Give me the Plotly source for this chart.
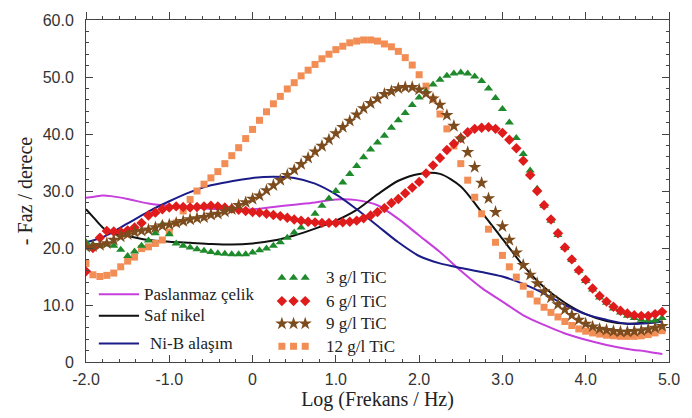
import plotly.graph_objects as go

# Log frequency grid of the measured points (log10 f / Hz)
log_f = [-2.000, -1.917, -1.833, -1.750, -1.667, -1.583, -1.500, -1.417, -1.333, -1.250,
         -1.167, -1.083, -1.000, -0.917, -0.833, -0.750, -0.667, -0.583, -0.500, -0.417,
         -0.333, -0.250, -0.167, -0.083, 0.000, 0.083, 0.167, 0.250, 0.333, 0.417,
         0.500, 0.583, 0.667, 0.750, 0.833, 0.917, 1.000, 1.083, 1.167, 1.250,
         1.333, 1.417, 1.500, 1.583, 1.667, 1.750, 1.833, 1.917, 2.000, 2.083,
         2.167, 2.250, 2.333, 2.417, 2.500, 2.583, 2.667, 2.750, 2.833, 2.917,
         3.000, 3.083, 3.167, 3.250, 3.333, 3.417, 3.500, 3.583, 3.667, 3.750,
         3.833, 3.917, 4.000, 4.083, 4.167, 4.250, 4.333, 4.417, 4.500, 4.583,
         4.667, 4.750, 4.833, 4.917]

# -phase (degrees) of the TiC composite coatings
tic_3 = [21.0, 20.6, 20.4, 20.6, 20.4, 19.7, 18.6, 19.4, 20.4, 21.3,
         22.6, 24.2, 22.4, 20.8, 20.4, 20.1, 19.8, 19.5, 19.3, 19.1,
         19.0, 18.9, 18.9, 18.9, 19.2, 19.6, 19.9, 20.4, 21.0, 21.8,
         22.7, 23.6, 24.6, 26.0, 27.4, 28.7, 30.0, 31.5, 33.0, 34.4,
         35.9, 37.3, 38.5, 39.7, 41.1, 42.4, 43.7, 45.1, 46.4, 47.5,
         48.7, 49.5, 50.2, 50.6, 50.8, 50.6, 50.1, 49.3, 48.0, 46.3,
         44.4, 42.0, 39.3, 36.5, 33.6, 30.4, 27.4, 24.8, 22.3, 20.0,
         17.9, 16.0, 14.2, 12.7, 11.3, 10.4, 9.4, 8.7, 8.1, 7.7,
         7.4, 7.3, 7.3, 7.7]

tic_6 = [15.9, 20.0, 21.8, 23.0, 22.9, 22.8, 23.1, 23.6, 24.4, 25.7,
         26.2, 26.8, 27.1, 27.3, 27.2, 27.1, 27.2, 27.3, 27.4, 27.3,
         27.1, 26.9, 26.7, 26.5, 26.3, 26.2, 26.0, 25.8, 25.6, 25.3,
         25.0, 24.8, 24.6, 24.5, 24.4, 24.4, 24.4, 24.5, 24.6, 24.8,
         25.2, 25.7, 26.3, 27.0, 27.9, 28.6, 29.6, 30.6, 31.6, 33.1,
         34.5, 35.8, 37.2, 38.3, 39.3, 40.3, 40.9, 41.1, 41.2, 40.9,
         40.2, 39.0, 37.5, 35.3, 32.8, 30.0, 27.5, 25.0, 22.6, 20.1,
         18.0, 16.1, 14.4, 12.9, 11.6, 10.6, 9.7, 9.0, 8.5, 8.2,
         8.1, 8.1, 8.4, 8.8]

tic_9 = [20.2, 20.3, 20.5, 20.8, 21.4, 22.0, 22.4, 22.8, 23.0, 23.2,
         23.6, 23.9, 24.1, 24.4, 24.7, 25.0, 25.2, 25.4, 25.8, 26.0,
         26.4, 26.8, 27.5, 28.0, 28.6, 29.2, 30.1, 31.0, 31.9, 32.8,
         33.7, 34.7, 35.8, 36.9, 37.9, 39.0, 40.1, 41.2, 42.3, 43.4,
         44.5, 45.4, 46.2, 47.0, 47.5, 48.0, 48.2, 48.2, 47.8, 47.1,
         46.2, 45.1, 43.3, 41.4, 39.2, 36.8, 34.2, 31.4, 28.7, 26.3,
         23.8, 21.4, 19.2, 17.0, 15.3, 13.8, 12.4, 11.3, 10.1, 9.2,
         8.2, 7.4, 6.7, 6.2, 5.8, 5.6, 5.4, 5.3, 5.3, 5.4,
         5.5, 5.7, 6.0, 6.3]

tic_12 = [17.3, 15.3, 15.0, 15.2, 15.6, 16.7, 17.7, 18.4, 19.9, 20.2,
          20.8, 21.4, 22.8, 24.4, 26.5, 28.5, 30.0, 31.2, 32.3, 33.4,
          34.8, 36.2, 37.6, 39.2, 40.8, 42.4, 43.9, 45.3, 46.6, 47.9,
          49.0, 50.2, 51.2, 52.2, 53.2, 54.0, 54.8, 55.4, 56.0, 56.3,
          56.5, 56.5, 56.3, 55.8, 55.3, 54.5, 53.4, 52.1, 50.4, 48.4,
          46.1, 43.5, 40.9, 37.9, 34.8, 31.9, 28.9, 26.0, 23.3, 21.0,
          18.7, 16.7, 14.9, 13.3, 11.9, 10.7, 9.6, 8.7, 7.9, 7.1,
          6.4, 5.8, 5.4, 5.1, 4.9, 4.7, 4.6, 4.5, 4.5, 4.5,
          4.6, 4.8, 5.1, 5.5]

# Reference substrates / coatings drawn as smooth lines
log_f_line = [-2.0, -1.9, -1.8, -1.7, -1.5, -1.25, -1.0, -0.75, -0.5, -0.25,
              0.0, 0.25, 0.5, 0.75, 1.0, 1.25, 1.5, 1.75, 2.0, 2.25,
              2.5, 2.75, 3.0, 3.25, 3.5, 3.75, 4.0, 4.25, 4.5, 4.75, 4.92]

paslanmaz = [28.8, 29.0, 29.2, 29.1, 28.6, 27.8, 27.4, 27.1, 26.9, 26.7,
             26.8, 27.2, 27.6, 28.0, 28.5, 28.4, 27.5, 25.1, 22.2, 19.3,
             16.0, 13.0, 10.6, 8.2, 6.5, 5.0, 3.9, 3.0, 2.3, 1.8, 1.4]

saf_nikel = [26.8, 25.2, 23.6, 22.6, 22.1, 21.4, 21.1, 20.9, 20.7, 20.6,
             20.8, 21.3, 22.2, 23.4, 24.8, 26.7, 29.4, 31.8, 33.0, 33.0,
             30.8, 26.3, 21.6, 16.9, 13.1, 10.4, 8.4, 7.2, 6.7, 7.0, 7.6]

ni_b = [21.0, 21.4, 21.9, 22.6, 24.3, 26.4, 28.2, 29.8, 31.0, 31.7,
        32.3, 32.5, 32.3, 31.3, 29.4, 26.8, 23.9, 21.0, 18.6, 17.3,
        16.5, 15.8, 15.0, 13.7, 12.0, 10.0, 8.4, 7.4, 6.7, 6.8, 7.1]

x_ticks = [-2, -1, 0, 1, 2, 3, 4, 5]
x_tick_text = ["-2.0", "-1.0", "0", "1.0", "2.0", "3.0", "4.0", "5.0"]
y_ticks = [0, 10, 20, 30, 40, 50, 60]
y_tick_text = ["0", "10.0", "20.0", "30.0", "40.0", "50.0", "60.0"]

line_series = [
    ("Paslanmaz çelik", paslanmaz, "#c63fdc"),
    ("Saf nikel", saf_nikel, "#111111"),
    ("Ni-B alaşım", ni_b, "#1c1c88"),
]
marker_series = [
    ("12 g/l TiC", tic_12, "#f28e55", "square", 7),
    ("3 g/l TiC", tic_3, "#1f8a2c", "triangle-up", 8),
    ("6 g/l TiC", tic_6, "#e01b1b", "diamond", 8),
    ("9 g/l TiC", tic_9, "#7c4c1e", "star", 10),
]

fig = go.Figure()

for name, vals, color in line_series:
    fig.add_trace(go.Scatter(x=log_f_line, y=vals, mode="lines", name=name,
                             line=dict(color=color, width=2, shape="spline", smoothing=0.8),
                             showlegend=False))

for name, vals, color, symbol, size in marker_series:
    fig.add_trace(go.Scatter(x=log_f, y=vals, mode="markers", name=name,
                             marker=dict(color=color, symbol=symbol, size=size, line=dict(width=0)),
                             showlegend=False))

# Hand-built legend: three sample markers per composite, short line per reference
serif = "Liberation Serif, Times New Roman, serif"
leg_marker_rows = [
    ("3 g/l TiC", "#1f8a2c", "triangle-up", 8, 0.246),
    ("6 g/l TiC", "#e01b1b", "diamond", 8, 0.178),
    ("9 g/l TiC", "#7c4c1e", "star", 10, 0.112),
    ("12 g/l TiC", "#f28e55", "square", 7, 0.046),
]
for label, color, symbol, size, yy in leg_marker_rows:
    fig.add_trace(go.Scatter(x=[0.336, 0.356, 0.376], y=[yy] * 3, mode="markers",
                             xaxis="x3", yaxis="y3", hoverinfo="skip", showlegend=False,
                             marker=dict(color=color, symbol=symbol, size=size, line=dict(width=0))))
    fig.add_annotation(x=0.409, y=yy, xref="paper", yref="paper", text=label,
                       showarrow=False, xanchor="left", yanchor="middle",
                       font=dict(family=serif, size=17, color="#222"))

leg_line_rows = [
    ("Paslanmaz çelik", "#c63fdc", 0.198, 0.096),
    ("Saf nikel", "#111111", 0.135, 0.096),
    ("Ni-B alaşım", "#1c1c88", 0.054, 0.106),
]
for label, color, yy, tx in leg_line_rows:
    fig.add_shape(type="line", xref="paper", yref="paper", x0=0.022, x1=0.091, y0=yy, y1=yy,
                  line=dict(color=color, width=2))
    fig.add_annotation(x=tx, y=yy, xref="paper", yref="paper", text=label,
                       showarrow=False, xanchor="left", yanchor="middle",
                       font=dict(family=serif, size=17, color="#222"))

sans = "Liberation Sans, Arial, sans-serif"
axis_common = dict(showline=True, linecolor="#444", linewidth=1, showgrid=False, zeroline=False,
                   tickcolor="#444", tickfont=dict(family=sans, size=16, color="#333"))

fig.update_layout(
    width=692, height=418,
    margin=dict(l=86, r=14, t=15, b=54),
    paper_bgcolor="white", plot_bgcolor="white",
    xaxis=dict(range=[-2, 5], tickvals=x_ticks, ticktext=x_tick_text,
               ticks="inside", ticklen=7, mirror=False, ticklabelstandoff=3,
               minor=dict(ticks="inside", dtick=0.2, ticklen=3, tickcolor="#444"),
               title=dict(text="Log (Frekans / Hz)", standoff=4,
                          font=dict(family=serif, size=20, color="#222")),
               **axis_common),
    xaxis2=dict(range=[-2, 5], overlaying="x", side="top", anchor="y",
                tickvals=x_ticks, showticklabels=False, ticks="outside", ticklen=7,
                minor=dict(ticks="outside", dtick=0.2, ticklen=3, tickcolor="#444"),
                showline=True, linecolor="#444", linewidth=1, showgrid=False, zeroline=False,
                tickcolor="#444"),
    yaxis=dict(range=[0, 60], tickvals=y_ticks, ticktext=y_tick_text,
               ticks="inside", ticklen=7, mirror="ticks", ticklabelstandoff=8,
               minor=dict(ticks="inside", dtick=2, ticklen=3, tickcolor="#444"),
               title=dict(text="- Faz / derece", standoff=4,
                          font=dict(family=serif, size=20, color="#222")),
               **axis_common),
    xaxis3=dict(range=[0, 1], overlaying="x", visible=False, anchor="y3"),
    yaxis3=dict(range=[0, 1], overlaying="y", visible=False, anchor="x3"),
)

# Top axis needs at least one trace to render
fig.add_trace(go.Scatter(x=[None], y=[None], xaxis="x2", yaxis="y", showlegend=False, hoverinfo="skip"))

fig.write_html("out.html")
